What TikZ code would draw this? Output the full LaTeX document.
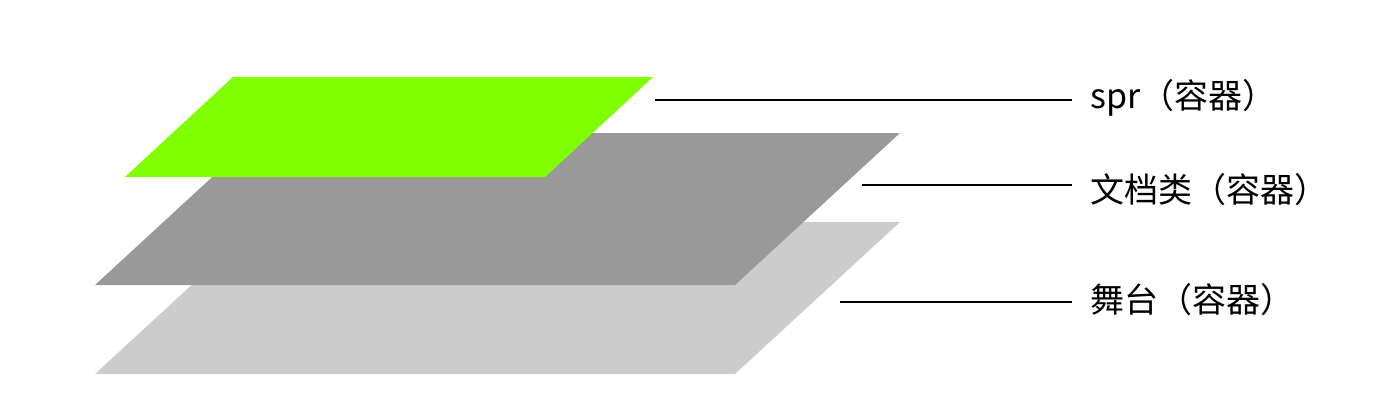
\documentclass[tikz,border=0pt]{standalone}
\usepackage{fontspec}
\newfontfamily\cjk{Noto Sans CJK SC}
\definecolor{layergreen}{RGB}{128,255,0}
\definecolor{layerdark}{RGB}{153,153,153}
\definecolor{layerlight}{RGB}{204,204,204}
\tikzset{
  layer/.style={draw=none},
  leader/.style={draw=black, line width=1pt},
  lab/.style={anchor=west, inner sep=0pt, font=\cjk\fontsize{17}{17}\selectfont},
}
\begin{document}
\begin{tikzpicture}[x=0.5pt,y=-0.5pt]
\useasboundingbox (0,0) rectangle (1398,414);
% layers
\fill[layer, layerlight] (260,222) -- (900,222) -- (735,374) -- (95,374) -- cycle;
\fill[layer, layerdark] (260,133) -- (900,133) -- (735,285) -- (95,285) -- cycle;
\fill[layer, layergreen] (233,77) -- (653,77) -- (545,177) -- (125,177) -- cycle;
% anchors for leaders
\coordinate (g) at (655,100);
\coordinate (d) at (862,185);
\coordinate (l) at (840,302);
% labels
\node[lab] (t1) at (1090,98) {spr（容器）};
\node[lab] (t2) at (1090,190) {文档类（容器）};
\node[lab] (t3) at (1090,300) {舞台（容器）};
% leaders
\draw[leader] (g) -- (g -| 1072,0);
\draw[leader] (d) -- (d -| 1072,0);
\draw[leader] (l) -- (l -| 1072,0);
\end{tikzpicture}
\end{document}
